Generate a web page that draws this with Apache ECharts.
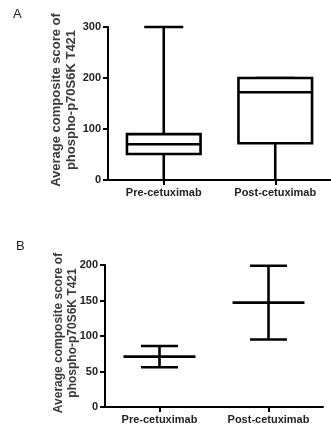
<!DOCTYPE html>
<html>
<head>
<meta charset="utf-8">
<script src="https://cdn.jsdelivr.net/npm/echarts@6/dist/echarts.min.js"></script>
<style>
html,body{margin:0;padding:0;background:#fff;}
#main{width:331px;height:428px;}
</style>
</head>
<body>
<div id="main"></div>
<script>
// ---- data ----
const categories = ['Pre-cetuximab', 'Post-cetuximab'];
// Panel A: box plot (min, Q1, median, Q3, max)
const boxMin = [0, 0];
const boxQ1 = [51, 72];
const boxMedian = [70, 172];
const boxQ3 = [90, 200];
const boxMax = [300, 200];
// Panel B: mean with error bars
const meanValues = [71, 147];
const errLower = [56, 95];
const errUpper = [86, 199];
// tick settings
const yTicksA = [0, 100, 200, 300];
const yTicksB = [0, 50, 100, 150, 200];
const yTitle = 'Average composite score of\nphospho-p70S6K T421';

const chart = echarts.init(document.getElementById('main'));
const LW = 2.6;

function boxItem(params, api) {
  const i = api.value(0);
  const c = api.coord([i, api.value(3)]);
  const band = api.size([1, 0])[0];
  const bw = band * 0.66, cw = band * 0.35;
  const x = c[0];
  const y = v => api.coord([i, v])[1];
  const yMin = y(api.value(1)), yQ1 = y(api.value(2)), yMed = y(api.value(3)), yQ3 = y(api.value(4)), yMax = y(api.value(5));
  const st = {stroke: '#000', lineWidth: LW, fill: null};
  return {
    type: 'group',
    children: [
      {type: 'line', shape: {x1: x, y1: yQ3, x2: x, y2: yMax}, style: st},
      {type: 'line', shape: {x1: x, y1: yQ1, x2: x, y2: yMin}, style: st},
      {type: 'line', shape: {x1: x - cw/2, y1: yMax, x2: x + cw/2, y2: yMax}, style: st},
      {type: 'rect', shape: {x: x - bw/2, y: yQ3, width: bw, height: yQ1 - yQ3}, style: {stroke: '#000', lineWidth: LW, fill: '#fff'}},
      {type: 'line', shape: {x1: x - bw/2, y1: yMed, x2: x + bw/2, y2: yMed}, style: st}
    ]
  };
}

function errItem(params, api) {
  const i = api.value(0);
  const c = api.coord([i, api.value(1)]);
  const band = api.size([1, 0])[0];
  const mw = band * 0.66, cw = band * 0.34;
  const x = c[0];
  const yMean = c[1];
  const yLo = api.coord([i, api.value(2)])[1];
  const yHi = api.coord([i, api.value(3)])[1];
  const st = {stroke: '#000', lineWidth: LW, fill: null};
  return {
    type: 'group',
    children: [
      {type: 'line', shape: {x1: x, y1: yHi, x2: x, y2: yLo}, style: st},
      {type: 'line', shape: {x1: x - mw/2, y1: yMean, x2: x + mw/2, y2: yMean}, style: st},
      {type: 'line', shape: {x1: x - cw/2, y1: yHi, x2: x + cw/2, y2: yHi}, style: st},
      {type: 'line', shape: {x1: x - cw/2, y1: yLo, x2: x + cw/2, y2: yLo}, style: st}
    ]
  };
}

const axisLineStyle = {lineStyle: {color: '#000', width: 2}};
const tickLabel = {fontFamily: 'Liberation Sans, Arial', fontWeight: 'bold', fontSize: 11, color: '#222'};

function xAxis(gi) {
  return {
    type: 'category', gridIndex: gi, data: categories, boundaryGap: true,
    axisLine: axisLineStyle,
    axisTick: {show: true, alignWithLabel: true, length: 5, lineStyle: {color: '#000', width: 2}},
    axisLabel: Object.assign({margin: 7, interval: 0}, tickLabel),
    splitLine: {show: false}
  };
}
function yAxis(gi, ticks) {
  return {
    type: 'value', gridIndex: gi, min: ticks[0], max: ticks[ticks.length - 1],
    interval: ticks[1] - ticks[0],
    axisLine: Object.assign({show: true}, axisLineStyle),
    axisTick: {show: true, length: 5, lineStyle: {color: '#000', width: 2}},
    axisLabel: Object.assign({margin: 7}, tickLabel),
    splitLine: {show: false}
  };
}

const titleFont = {fontFamily: 'Liberation Sans, Arial', fontWeight: 'bold', fill: '#3a3a3a', align: 'center', verticalAlign: 'middle'};

chart.setOption({
  animation: false,
  grid: [
    {left: 108, top: 27, width: 230, height: 153},
    {left: 105, top: 265, width: 218, height: 142}
  ],
  xAxis: [xAxis(0), xAxis(1)],
  yAxis: [yAxis(0, yTicksA), yAxis(1, yTicksB)],
  graphic: [
    {type: 'text', left: 13, top: 8, style: {text: 'A', font: '13px Liberation Sans, Arial', fill: '#222'}},
    {type: 'text', left: 16, top: 240, style: {text: 'B', font: '13px Liberation Sans, Arial', fill: '#222'}},
    {type: 'text', x: 64, y: 100, rotation: Math.PI / 2,
      style: Object.assign({text: yTitle, fontSize: 13, lineHeight: 15}, titleFont)},
    {type: 'text', x: 66, y: 333, rotation: Math.PI / 2,
      style: Object.assign({text: yTitle, fontSize: 12, lineHeight: 14}, titleFont)}
  ],
  series: [
    {
      type: 'custom', xAxisIndex: 0, yAxisIndex: 0,
      renderItem: boxItem,
      encode: {x: 0, y: [1, 2, 3, 4, 5]},
      data: categories.map((c, i) => [i, boxMin[i], boxQ1[i], boxMedian[i], boxQ3[i], boxMax[i]]),
      clip: false
    },
    {
      type: 'custom', xAxisIndex: 1, yAxisIndex: 1,
      renderItem: errItem,
      encode: {x: 0, y: [1, 2, 3]},
      data: categories.map((c, i) => [i, meanValues[i], errLower[i], errUpper[i]]),
      clip: false
    }
  ]
});
</script>
</body>
</html>
